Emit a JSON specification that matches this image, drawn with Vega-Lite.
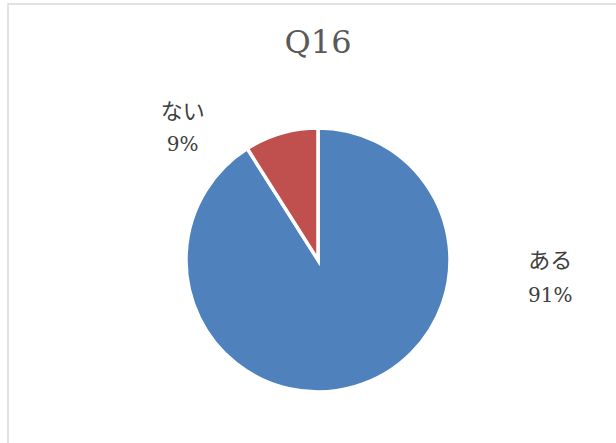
{
  "$schema": "https://vega.github.io/schema/vega-lite/v6.json",
  "autosize": "none",
  "width": 620,
  "height": 512,
  "padding": {"left": 8, "top": 4, "right": 0, "bottom": 0},
  "background": "white",
  "view": {"stroke": "#D9D9D9", "strokeWidth": 1.5, "fill": "white"},
  "title": {"text": "Q16", "anchor": "middle", "frame": "group", "orient": "top", "offset": -50, "dy": 31, "baseline": "alphabetic", "font": "DejaVu Serif", "fontSize": 32, "fontWeight": "normal", "color": "#595959"},
  "data": {"values": [{"category": "ある", "value": 0.91}, {"category": "ない", "value": 0.09}]},
  "layer": [
    {
      "mark": {"type": "arc", "outerRadius": 132, "stroke": "white", "strokeWidth": 3.5},
      "encoding": {
        "theta": {"field": "value", "type": "quantitative", "stack": true},
        "color": {"field": "category", "type": "nominal", "scale": {"domain": ["ある", "ない"], "range": ["#4F81BD", "#C0504D"]}, "legend": null},
        "order": {"field": "category", "sort": "ascending"}
      }
    },
    {
      "transform": [{"filter": "datum.category === 'ある'"}],
      "mark": {"type": "text", "theta": 1.648, "radius": 233, "dy": -17, "font": "DejaVu Serif, Noto Sans CJK JP", "fontSize": 22, "color": "#404040"},
      "encoding": {"text": {"field": "category", "type": "nominal"}}
    },
    {
      "transform": [{"filter": "datum.category === 'ある'"}],
      "mark": {"type": "text", "theta": 1.648, "radius": 233, "dy": 18, "font": "DejaVu Serif, Noto Sans CJK JP", "fontSize": 20, "color": "#404040"},
      "encoding": {"text": {"field": "value", "type": "quantitative", "format": ".0%"}}
    },
    {
      "transform": [{"filter": "datum.category === 'ない'"}],
      "mark": {"type": "text", "theta": 5.485, "radius": 189, "dy": -16, "font": "DejaVu Serif, Noto Sans CJK JP", "fontSize": 22, "color": "#404040"},
      "encoding": {"text": {"field": "category", "type": "nominal"}}
    },
    {
      "transform": [{"filter": "datum.category === 'ない'"}],
      "mark": {"type": "text", "theta": 5.485, "radius": 189, "dy": 17, "font": "DejaVu Serif, Noto Sans CJK JP", "fontSize": 20, "color": "#404040"},
      "encoding": {"text": {"field": "value", "type": "quantitative", "format": ".0%"}}
    }
  ]
}
